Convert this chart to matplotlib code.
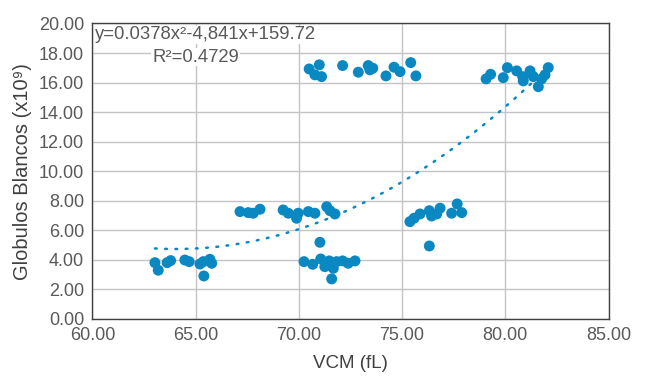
import matplotlib

matplotlib.use("Agg")
import matplotlib.pyplot as plt
import numpy as np

plt.rcParams["font.family"] = ["Liberation Sans", "DejaVu Sans"]

BLUE = "#0a88c2"
GRID = "#c4c4c4"
TEXT = "#595959"

# VCM (fL) vs Globulos Blancos (x10^9)
vcm = [
    # low-left cluster
    63.03, 63.19, 63.62, 63.79, 64.48, 64.69, 65.21, 65.37, 65.69, 65.78, 65.40,
    # ~7.3 cluster
    67.15, 67.55, 67.79, 68.12, 69.24, 69.49, 69.89, 69.97, 70.46, 70.78,
    71.35, 71.51, 71.75,
    # ~4 cluster at 70-73
    71.02, 70.25, 70.67, 71.06, 71.26, 71.47, 71.67, 71.83, 72.12, 72.39,
    72.72, 71.59,
    # ~7 cluster at 75-78
    75.38, 75.58, 75.87, 76.32, 76.43, 76.68, 76.84, 77.40, 77.67, 77.89, 76.32,
    # ~16.7 cluster at 70-76
    70.50, 70.99, 70.78, 71.10, 72.12, 72.88, 73.36, 73.58, 73.44, 74.22,
    74.61, 74.90, 75.42, 75.67,
    # ~16.4 cluster at 79-82
    79.07, 79.29, 79.90, 80.10, 80.55, 80.84, 81.20, 81.36, 81.60, 81.76,
    81.92, 82.08, 80.87,
]
leucocitos = [
    3.80, 3.29, 3.80, 3.94, 3.98, 3.87, 3.71, 3.87, 4.03, 3.76, 2.90,
    7.26, 7.19, 7.15, 7.42, 7.37, 7.15, 6.81, 7.15, 7.26, 7.15,
    7.59, 7.32, 7.10,
    5.18, 3.87, 3.69, 4.05, 3.53, 3.92, 3.42, 3.87, 3.92, 3.76,
    3.92, 2.70,
    6.58, 6.81, 7.10, 7.32, 6.96, 7.10, 7.49, 7.15, 7.78, 7.19, 4.93,
    16.92, 17.20, 16.52, 16.40, 17.15, 16.70, 17.15, 16.97, 16.86, 16.45,
    17.04, 16.74, 17.35, 16.45,
    16.25, 16.56, 16.33, 17.01, 16.79, 16.40, 16.79, 16.40, 15.72, 16.25,
    16.52, 17.01, 16.11,
]

# polynomial trendline as printed on the chart
coef = [0.0378, -4.841, 159.72]
eq_label = "y=0.0378x\u00b2-4,841x+159.72"
r2_label = "R\u00b2=0.4729"

x_ticks = [60, 65, 70, 75, 80, 85]
y_ticks = list(range(0, 21, 2))

fig = plt.figure(figsize=(6.46, 3.85), dpi=100)
ax = fig.add_axes([0.143, 0.172, 0.799, 0.767])

ax.scatter(vcm, leucocitos, s=62, color=BLUE, edgecolors="none", zorder=3)

xs = np.linspace(min(vcm), max(vcm), 200)
ax.plot(xs, np.polyval(coef, xs), color=BLUE, lw=1.8,
        linestyle=(0, (0.7, 3.4)), dash_capstyle="round", zorder=2)

ax.set_xlim(60, 85)
ax.set_ylim(0, 20)
ax.set_xticks(x_ticks)
ax.set_yticks(y_ticks)
ax.set_xticklabels([f"{v:.2f}" for v in x_ticks])
ax.set_yticklabels([f"{v:.2f}" for v in y_ticks])
ax.tick_params(length=0, labelsize=13, colors=TEXT, pad=6)
ax.grid(True, color=GRID, linewidth=1)
ax.set_axisbelow(True)
for spine in ax.spines.values():
    spine.set_color("#404040")
    spine.set_linewidth(1)

ax.set_xlabel("VCM (fL)", fontsize=13.5, color="#404040", labelpad=8)
ax.set_ylabel("Globulos Blancos (x10\u2079)", fontsize=14.5, color="#404040", labelpad=5)

ax.text(0.004, 0.99, eq_label, transform=ax.transAxes, ha="left", va="top",
        fontsize=13.3, color=TEXT, zorder=4,
        bbox=dict(facecolor="white", edgecolor="none", pad=0.5))
ax.text(0.2, 0.915, r2_label, transform=ax.transAxes, ha="center", va="top",
        fontsize=13.3, color=TEXT, zorder=4,
        bbox=dict(facecolor="white", edgecolor="none", pad=0.5))

fig.savefig("out.png", dpi=100, facecolor="white")
